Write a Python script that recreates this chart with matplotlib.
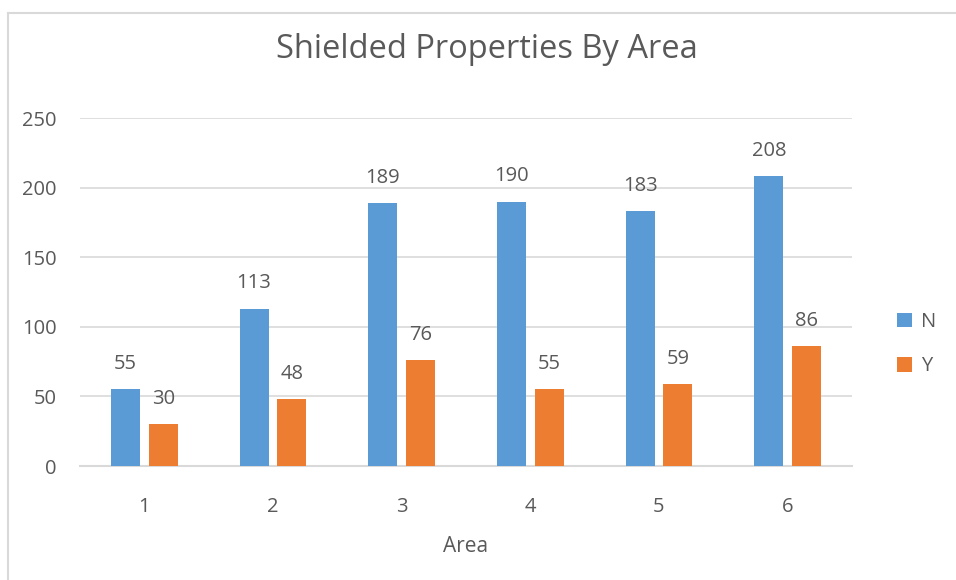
import matplotlib.pyplot as plt
import numpy as np

areas = ['1', '2', '3', '4', '5', '6']
n_counts = [55, 113, 189, 190, 183, 208]
y_counts = [30, 48, 76, 55, 59, 86]

blue = '#5B9BD5'
orange = '#ED7D31'
text_col = '#595959'
grid_col = '#D9D9D9'

plt.rcParams['font.family'] = ['Open Sans', 'DejaVu Sans']

fig = plt.figure(figsize=(9.56, 5.80), dpi=100)
ax = fig.add_axes([80 / 956, 1 - 466 / 580, 772 / 956, 348 / 580])

x = np.arange(len(areas))
bar_width = 0.225
offset = 0.147

bars_n = ax.bar(x - offset, n_counts, width=bar_width, color=blue, label='N', zorder=3)
bars_y = ax.bar(x + offset, y_counts, width=bar_width, color=orange, label='Y', zorder=3)

for bars in (bars_n, bars_y):
    for b in bars:
        h = b.get_height()
        ax.annotate(f'{h:.0f}', (b.get_x() + b.get_width() / 2, h),
                    xytext=(0, 11), textcoords='offset points',
                    ha='center', va='bottom', fontsize=14.5, color=text_col)

ax.set_xlim(-0.5, len(areas) - 0.5)
ax.set_ylim(0, 250)
ax.set_yticks(range(0, 251, 50))
ax.set_xticks(x)
ax.set_xticklabels(areas)
ax.yaxis.grid(True, color=grid_col, linewidth=1.2, zorder=0)
for side in ('top', 'right', 'left'):
    ax.spines[side].set_visible(False)
ax.spines['bottom'].set_color(grid_col)
ax.spines['bottom'].set_linewidth(1.5)
ax.tick_params(axis='both', length=0, labelsize=14.5, labelcolor=text_col)
ax.tick_params(axis='y', pad=17)
ax.tick_params(axis='x', pad=22)

ax.set_xlabel('Area', fontsize=15, color=text_col, labelpad=14)
fig.text(487 / 956, 1 - 50 / 580, 'Shielded Properties By Area', ha='center', va='center',
         fontsize=23.5, color=text_col)

leg = ax.legend(loc='center left', bbox_to_anchor=(1.035, 0.35), frameon=False,
                fontsize=14.5, labelcolor=text_col, handlelength=0.75, handleheight=0.75,
                handletextpad=0.45, labelspacing=1.2)

# thin frame around the chart area
fig.add_artist(plt.Line2D([8 / 956, 8 / 956], [0, 1 - 13 / 580], color=grid_col,
                          linewidth=1.5, transform=fig.transFigure))
fig.add_artist(plt.Line2D([8 / 956, 1], [1 - 13 / 580, 1 - 13 / 580], color=grid_col,
                          linewidth=1.5, transform=fig.transFigure))

fig.savefig('out.png', dpi=100)
